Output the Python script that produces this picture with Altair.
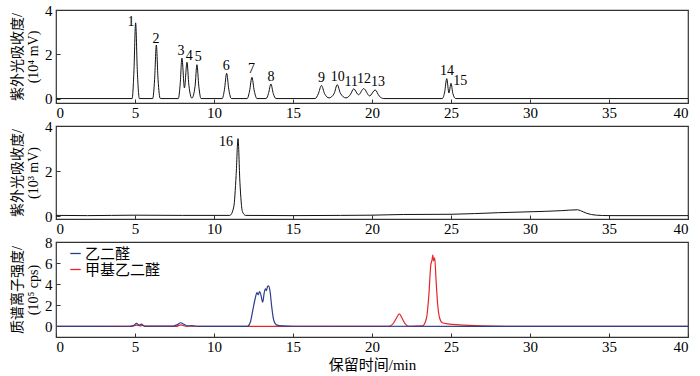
import altair as alt
import pandas as pd

# ---------------- data ----------------
# Panel 1: UV absorbance (10^4 mV), retention time (min)
uv1_t = [0, 4.82, 4.93, 5.04, 5.15, 5.28,
         6.12, 6.24, 6.35, 6.46, 6.6,
         7.74, 7.86, 7.97, 8.13, 8.29, 8.41, 8.6, 8.8, 8.92, 9.04, 9.18,
         10.52, 10.66, 10.8, 10.94, 11.1,
         12.1, 12.25, 12.4, 12.55, 12.72,
         13.3, 13.45, 13.6, 13.75, 13.92,
         16.4, 16.6, 16.8, 17.0, 17.28, 17.6, 17.8, 18.0, 18.35,
         18.65, 18.84, 19.15, 19.47, 19.85, 20.2, 20.45, 20.75,
         24.45, 24.6, 24.73, 24.87, 25.0, 25.12, 25.3, 40]
uv1_v = [0, 0, 1.2, 3.42, 1.2, 0,
         0, 0.85, 2.42, 0.85, 0,
         0, 0.65, 1.83, 0.48, 1.64, 0.6, 0.02, 0.55, 1.53, 0.55, 0,
         0, 0.4, 1.14, 0.4, 0,
         0, 0.34, 0.96, 0.34, 0,
         0, 0.23, 0.66, 0.23, 0,
         0, 0.21, 0.59, 0.22, 0.03, 0.22, 0.63, 0.24, 0.03,
         0.2, 0.44, 0.17, 0.45, 0.12, 0.39, 0.12, 0,
         0, 0.3, 0.9, 0.25, 0.69, 0.22, 0, 0]

peak_labels = ["1", "2", "3", "4", "5", "6", "7", "8", "9", "10", "11", "12", "13", "14", "15"]
peak_label_t = [4.75, 6.33, 7.91, 8.44, 9.0, 10.78, 12.38, 13.61, 16.81, 17.83, 18.68, 19.5, 20.38, 24.75, 25.59]
peak_label_v = [3.48, 2.69, 2.16, 1.94, 1.86, 1.49, 1.34, 0.99, 0.93, 0.99, 0.73, 0.89, 0.73, 1.23, 0.81]

# Panel 2: UV absorbance (10^3 mV)
uv2_t = [0, 2, 5, 8, 11.0, 11.25, 11.4, 11.52, 11.64, 11.8, 12.0,
         15, 18, 20, 22, 25, 28, 30, 32, 33.0, 33.2, 33.6, 34.2, 35, 40]
uv2_v = [0.03, 0.02, 0.04, 0.03, 0.03, 0.4, 1.8, 3.44, 1.5, 0.2, 0.03,
         0.02, 0.03, 0.04, 0.07, 0.08, 0.15, 0.19, 0.24, 0.28, 0.24, 0.12, 0.04, 0.02, 0.02]
p2_label = ["16"]
p2_label_t = [10.76]
p2_label_v = [3.29]

# Panel 3: MS ion intensity (10^5 cps)
series_names = ["乙二醛", "甲基乙二醛"]
series_colors = ["#2e3c8c", "#e8262a"]

ms_blue_t = [0, 4.6, 4.9, 5.1, 5.25, 5.4, 5.6, 7.4, 7.65, 7.9, 8.1, 8.3, 8.6, 9.0,
             12.1, 12.3, 12.45, 12.6, 12.72, 12.8, 12.88, 12.95, 13.08, 13.18, 13.25,
             13.32, 13.38, 13.45, 13.55, 13.65, 13.78, 13.95, 14.3, 15.0, 40]
ms_blue_v = [0, 0.02, 0.08, 0.3, 0.12, 0.22, 0.03, 0.03, 0.15, 0.35, 0.2, 0.05, 0.08, 0.0,
             0.0, 0.4, 1.5, 2.6, 3.2, 3.0, 3.3, 3.1, 2.3, 3.2, 3.55,
             3.4, 3.75, 3.85, 3.3, 1.9, 0.6, 0.15, 0.05, 0.02, 0.0]
ms_red_t = [0, 4.8, 5.1, 5.3, 5.5, 5.7, 7.6, 7.9, 8.2, 12.2, 21.0, 21.3, 21.55, 21.73,
            21.9, 22.1, 22.35, 23.2, 23.45, 23.6, 23.72, 23.8, 23.85, 23.9, 23.97, 24.05,
            24.15, 24.28, 24.45, 24.8, 25.5, 27.0, 28.5, 40]
ms_red_v = [0, 0, 0.12, 0.05, 0.1, 0, 0, 0.15, 0.02, 0, 0, 0.2, 0.8, 1.2,
            0.8, 0.25, 0.02, 0.05, 0.8, 3.0, 5.8, 6.3, 6.75, 6.2, 6.5, 4.5,
            2.2, 0.8, 0.35, 0.25, 0.15, 0.05, 0.02, 0]

x_ticks = [0, 5, 10, 15, 20, 25, 30, 35, 40]

# ---------------- style ----------------
FONT = "'Liberation Serif', 'Times New Roman', 'Noto Sans CJK SC', serif"
AX = "#333333"
W, GAP = 632, 23


def xaxis(title=None):
    kw = dict(values=x_ticks, domain=False, offset=-4, tickSize=4, tickColor=AX,
              labelPadding=2, grid=False, labelFont=FONT, labelFontSize=15,
              labelColor="#000", titleFont=FONT, titleFontSize=15,
              titleFontWeight="normal", titleColor="#000", titlePadding=3)
    if title:
        return alt.Axis(title=title, **kw)
    return alt.Axis(title=None, **kw)


def yaxis(title, values):
    return alt.Axis(title=title, values=values, domain=False, offset=-4, tickSize=4,
                    tickColor=AX, labelPadding=4, grid=False, labelFont=FONT,
                    labelFontSize=15, labelColor="#000", titleFont=FONT,
                    titleFontSize=14, titleFontWeight="normal", titleColor="#000",
                    titlePadding=4, titleLineHeight=16)


xscale = alt.Scale(domain=[0, 40], nice=False, zero=False)

# Panel 1
df1 = pd.DataFrame({"t": uv1_t, "v": uv1_v})
lab1 = pd.DataFrame({"t": peak_label_t, "v": peak_label_v, "s": peak_labels})
y1 = alt.Scale(domain=[-0.2, 4], nice=False, zero=False)
p1_line = alt.Chart(df1).mark_line(color="#111", strokeWidth=1, interpolate="monotone").encode(
    x=alt.X("t:Q", scale=xscale, axis=xaxis()),
    y=alt.Y("v:Q", scale=y1, axis=yaxis(["紫外光吸收度/", "(10⁴ mV)"], [0, 1, 2, 3, 4])),
)
p1_text = alt.Chart(lab1).mark_text(font=FONT, fontSize=14, color="#000", baseline="middle").encode(
    x="t:Q", y="v:Q", text="s:N")
p1 = alt.layer(p1_line, p1_text).properties(width=W, height=93)

# Panel 2
df2 = pd.DataFrame({"t": uv2_t, "v": uv2_v})
lab2 = pd.DataFrame({"t": p2_label_t, "v": p2_label_v, "s": p2_label})
y2 = alt.Scale(domain=[-0.13, 4], nice=False, zero=False)
p2_line = alt.Chart(df2).mark_line(color="#111", strokeWidth=1, interpolate="monotone").encode(
    x=alt.X("t:Q", scale=xscale, axis=xaxis()),
    y=alt.Y("v:Q", scale=y2, axis=yaxis(["紫外光吸收度/", "(10³ mV)"], [0, 1, 2, 3, 4])),
)
p2_text = alt.Chart(lab2).mark_text(font=FONT, fontSize=14, color="#000", baseline="middle").encode(
    x="t:Q", y="v:Q", text="s:N")
p2 = alt.layer(p2_line, p2_text).properties(width=W, height=93)

# Panel 3
dfb = pd.DataFrame({"t": ms_blue_t, "v": ms_blue_v, "s": series_names[0]})
dfr = pd.DataFrame({"t": ms_red_t, "v": ms_red_v, "s": series_names[1]})
y3 = alt.Scale(domain=[-1, 8], nice=False, zero=False)
cscale = alt.Scale(domain=series_names, range=series_colors)
legend = alt.Legend(title=None, orient="none", legendX=12, legendY=4, symbolType="stroke",
                    symbolSize=110, symbolStrokeWidth=1.3, labelFont=FONT, labelFontSize=15,
                    labelColor="#000", labelOffset=2, rowPadding=0, padding=0)


def ms_layer(df):
    return alt.Chart(df).mark_line(strokeWidth=1.2, interpolate="monotone").encode(
        x=alt.X("t:Q", scale=xscale, axis=xaxis("保留时间/min")),
        y=alt.Y("v:Q", scale=y3, axis=yaxis(["质谱离子强度/", "(10⁵ cps)"], [0, 2, 4, 6, 8])),
        color=alt.Color("s:N", scale=cscale, legend=legend),
    )


p3 = alt.layer(ms_layer(dfr), ms_layer(dfb)).properties(width=W, height=95)

chart = alt.vconcat(p1, p2, p3, spacing=GAP, bounds="flush").resolve_scale(
    color="independent").properties(
    padding={"left": 9, "top": 2, "right": 6, "bottom": 3},
    background="white",
).configure_view(stroke=AX, strokeWidth=1.2)

chart.save("out.html", embed_options={"renderer": "svg", "actions": False})
